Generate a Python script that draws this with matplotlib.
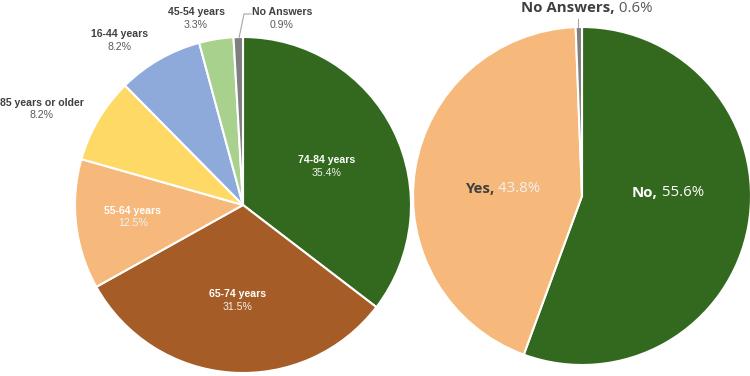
import matplotlib.pyplot as plt
import numpy as np

# left pie: age groups
age_labels = ['74-84 years', '65-74 years', '55-64 years', '85 years or older',
              '16-44 years', '45-54 years', 'No Answers']
age_values = [35.4, 31.5, 12.5, 8.2, 8.2, 3.3, 0.9]

# right pie: yes / no
answer_labels = ['No', 'Yes', 'No Answers']
answer_values = [55.6, 43.8, 0.6]

age_colors = ['#33691e', '#a65c26', '#f6b87b', '#ffd966', '#8eaadb', '#a9d18e', '#7f7f7f']
answer_colors = ['#33691e', '#f6b87b', '#7f7f7f']

W, H = 750, 376
fig = plt.figure(figsize=(7.5, 3.76), dpi=100)
ax = fig.add_axes([0, 0, 1, 1])

wp = dict(edgecolor='white', linewidth=1.5)

# left pie
c1 = (243, H - 205)
r1 = 168
ax.pie(age_values, colors=age_colors, startangle=90, counterclock=False,
       center=c1, radius=r1, wedgeprops=wp, frame=True)

# right pie
c2 = (582, H - 196)
r2 = 169
ax.pie(answer_values, colors=answer_colors, startangle=90, counterclock=False,
       center=c2, radius=r2, wedgeprops=wp, frame=True)

ax.set_xlim(0, W)
ax.set_ylim(0, H)
ax.set_aspect('equal')
ax.axis('off')

FONT = 'Liberation Sans'
dark = '#404040'
grey = '#595959'

# label positions for the left pie (pixel coords from top-left)
left_pos = [(327, 160), (238, 294), (133, 211), (42, 103), (120, 34), (196, 12), (282, 12)]
inside = [True, True, True, False, False, False, False]

for lab, val, (px, py), ins in zip(age_labels, age_values, left_pos, inside):
    c_lab = 'white' if ins else dark
    c_val = '#f2f2f2' if ins else grey
    ax.text(px, H - py, lab, ha='center', va='center', fontsize=7.6,
            fontweight='bold', color=c_lab, family=FONT)
    ax.text(px, H - py - 12.5, f'{val}%', ha='center', va='center', fontsize=7.6,
            color=c_val, family=FONT)

# leader line for the small "No Answers" slice
ax.plot([239, 244, 251], [H - 38, H - 14, H - 14], color='#a6a6a6', lw=0.8)

# right pie labels: bold name followed by normal percentage
RFONT = 'Open Sans'


def two_part(x, y, name, val, c_name, c_val, size):
    t = ax.text(x, y, name + ',', ha='left', va='center', fontsize=size,
                fontweight='bold', color=c_name, family=RFONT)
    ax.annotate(f' {val}%', xy=(1, 0.5), xycoords=t, ha='left', va='center',
                fontsize=size, color=c_val, family=RFONT)


two_part(632, H - 193, answer_labels[0], answer_values[0], 'white', 'white', 10.8)
two_part(465, H - 189, answer_labels[1], answer_values[1], dark, '#f2f2f2', 10.8)
two_part(521, H - 8, answer_labels[2], answer_values[2], dark, grey, 10.8)

ax.plot([578, 578], [H - 27, H - 19], color='#a6a6a6', lw=0.8)

fig.savefig('out.png', dpi=100)
